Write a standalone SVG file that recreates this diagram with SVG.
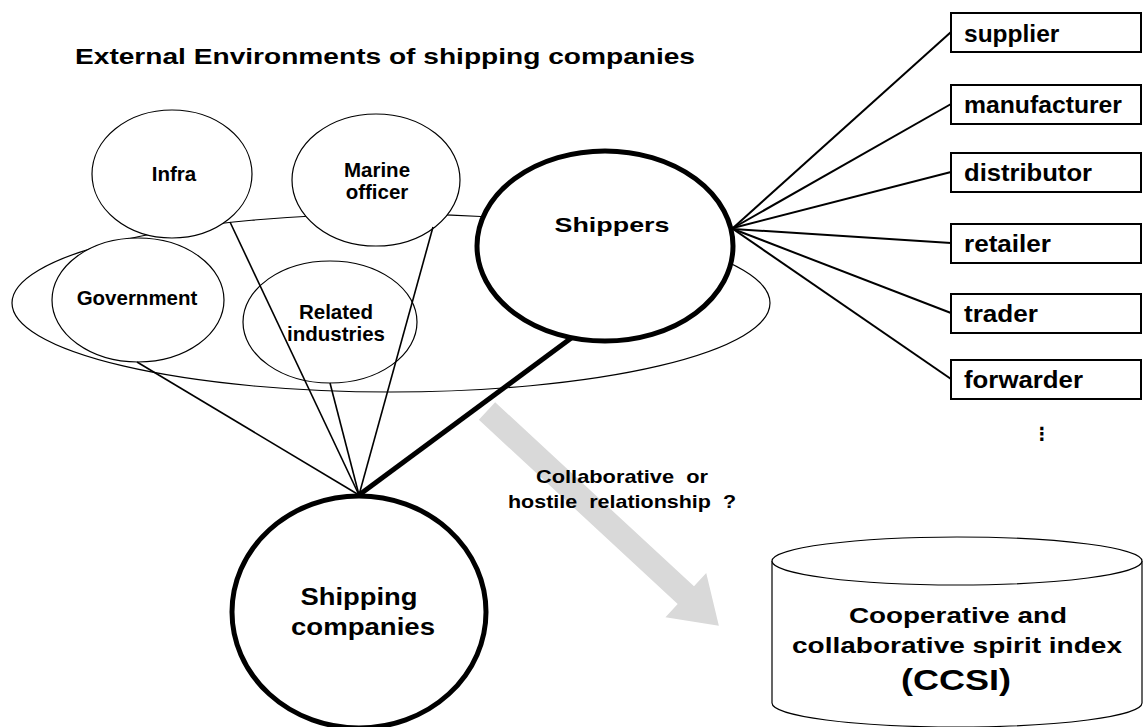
<svg xmlns="http://www.w3.org/2000/svg" width="1146" height="727" viewBox="0 0 1146 727">
<style>
text{font-family:"Liberation Sans",Arial,sans-serif;font-weight:bold;fill:#000;}
.thin{fill:#fff;stroke:#000;stroke-width:1.2;}
.bold{fill:#fff;stroke:#000;stroke-width:5;}
.box{fill:#fff;stroke:#000;stroke-width:2;}
.c{text-anchor:middle;}
.ln{stroke:#000;stroke-width:1.6;fill:none;}
.lnr{stroke:#000;stroke-width:2;fill:none;}
.lnb{stroke:#000;stroke-width:5;fill:none;}
</style>
<rect width="1146" height="727" fill="#fff"/>
<text x="75" y="64" font-size="22.5" textLength="620" lengthAdjust="spacingAndGlyphs">External Environments of shipping companies</text>
<g id="environment">
<ellipse class="thin" cx="391" cy="303" rx="379" ry="89" fill="none"/>
</g>
<g id="relationship-arrow">
<polygon transform="translate(487,411) rotate(42.8)" points="0,-12 271,-12 271,-30 316,0 271,30 271,12 0,12" fill="#d9d9d9"/>
<text class="c" x="622" y="483" font-size="18.5" textLength="172" lengthAdjust="spacingAndGlyphs" xml:space="preserve">Collaborative  or</text>
<text class="c" x="622" y="508" font-size="18.5" textLength="228" lengthAdjust="spacingAndGlyphs" xml:space="preserve">hostile  relationship  ?</text>
</g>
<g id="infra">
<ellipse class="thin" cx="172" cy="174" rx="80" ry="64"/>
<text class="c" x="174" y="181" font-size="20.5">Infra</text>
</g>
<g id="marine-officer">
<ellipse class="thin" cx="376" cy="180" rx="84" ry="66"/>
<text class="c" x="377" y="177" font-size="20.5">Marine</text>
<text class="c" x="377" y="199" font-size="20.5">officer</text>
</g>
<g id="government">
<ellipse class="thin" cx="138" cy="300" rx="86" ry="62"/>
<text class="c" x="137" y="305" font-size="20.5">Government</text>
</g>
<g id="related-industries">
<ellipse class="thin" cx="330" cy="322" rx="87" ry="61"/>
<text class="c" x="336" y="319" font-size="20.5">Related</text>
<text class="c" x="336" y="341" font-size="20.5">industries</text>
</g>
<g id="connectors">
<line class="ln" x1="137" y1="362" x2="359" y2="495"/>
<line class="ln" x1="230" y1="222" x2="359" y2="495"/>
<line class="ln" x1="330" y1="383" x2="359" y2="495"/>
<line class="ln" x1="433" y1="227" x2="359" y2="495"/>
<line class="lnb" x1="574" y1="336" x2="359" y2="495"/>
<line class="lnr" x1="733" y1="228" x2="951" y2="32"/>
<line class="lnr" x1="733" y1="228" x2="951" y2="104"/>
<line class="lnr" x1="733" y1="228" x2="951" y2="172"/>
<line class="lnr" x1="733" y1="229" x2="951" y2="243"/>
<line class="lnr" x1="733" y1="229" x2="951" y2="313"/>
<line class="lnr" x1="733" y1="229" x2="951" y2="379"/>
</g>
<g id="shippers">
<ellipse class="bold" cx="605" cy="246" rx="128" ry="95"/>
<text class="c" x="612" y="232" font-size="21" textLength="115" lengthAdjust="spacingAndGlyphs">Shippers</text>
</g>
<g id="shipping-companies">
<ellipse class="bold" cx="359" cy="612" rx="127" ry="116"/>
<text class="c" x="359" y="605" font-size="23" textLength="117" lengthAdjust="spacingAndGlyphs">Shipping</text>
<text class="c" x="363" y="635" font-size="23" textLength="144" lengthAdjust="spacingAndGlyphs">companies</text>
</g>
<g id="supplier"><rect class="box" x="951" y="13" width="190" height="39"/><text x="964" y="42" font-size="24.5">supplier</text></g>
<g id="manufacturer"><rect class="box" x="951" y="85" width="190" height="39"/><text x="964" y="113" font-size="24.5" textLength="158" lengthAdjust="spacingAndGlyphs">manufacturer</text></g>
<g id="distributor"><rect class="box" x="951" y="153" width="190" height="39"/><text x="964" y="181" font-size="24.5" textLength="128" lengthAdjust="spacingAndGlyphs">distributor</text></g>
<g id="retailer"><rect class="box" x="951" y="224" width="190" height="39"/><text x="964" y="252" font-size="24.5" textLength="87" lengthAdjust="spacingAndGlyphs">retailer</text></g>
<g id="trader"><rect class="box" x="951" y="294" width="190" height="39"/><text x="964" y="322" font-size="24.5" textLength="74" lengthAdjust="spacingAndGlyphs">trader</text></g>
<g id="forwarder"><rect class="box" x="951" y="360" width="190" height="39"/><text x="964" y="388" font-size="24.5" textLength="119" lengthAdjust="spacingAndGlyphs">forwarder</text></g>
<text x="1042" y="440" font-size="18" style="font-family:'DejaVu Sans',sans-serif;font-weight:bold" text-anchor="middle">⋮</text>
<g id="ccsi">
<path class="thin" d="M772,561 L772,703 A185,24 0 0 0 1142,703 L1142,561"/>
<ellipse class="thin" cx="957" cy="561" rx="185" ry="24"/>
<text class="c" x="958" y="623" font-size="22" textLength="218" lengthAdjust="spacingAndGlyphs">Cooperative and</text>
<text class="c" x="957" y="653" font-size="22" textLength="330" lengthAdjust="spacingAndGlyphs">collaborative spirit index</text>
<text class="c" x="956" y="690" font-size="30" textLength="110" lengthAdjust="spacingAndGlyphs">(CCSI)</text>
</g>
</svg>
